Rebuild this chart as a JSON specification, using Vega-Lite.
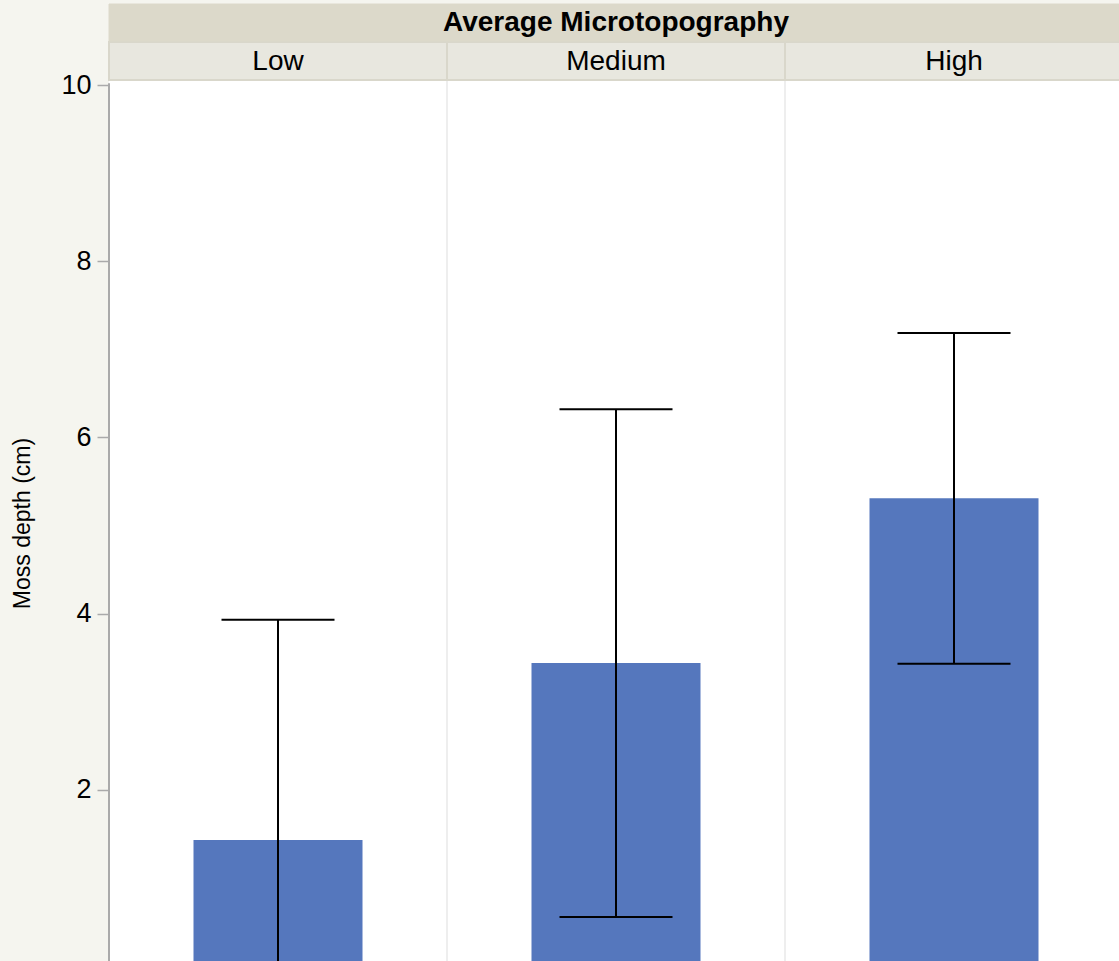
{
  "$schema": "https://vega.github.io/schema/vega-lite/v6.json",
  "width": 1014,
  "height": 962,
  "autosize": {"type": "none"},
  "padding": {"left": 109, "top": 4, "right": 0, "bottom": 0},
  "background": "#F5F5EF",
  "config": {"view": {"fill": "white", "stroke": null}, "font": "Liberation Sans"},
  "data": {"values": [
    {"topo": "Low", "mean": 1.43, "lower": -1.07, "upper": 3.93},
    {"topo": "Medium", "mean": 3.44, "lower": 0.556, "upper": 6.32},
    {"topo": "High", "mean": 5.31, "lower": 3.43, "upper": 7.185}
  ]},
  "encoding": {
    "x": {"field": "topo", "type": "nominal", "sort": ["Low", "Medium", "High"], "scale": {"paddingInner": 0, "paddingOuter": 0}, "axis": null}
  },
  "layer": [
    {
      "mark": {"type": "bar", "color": "#5577BD", "width": {"band": 0.5}},
      "encoding": {
        "y": {"field": "mean", "type": "quantitative", "scale": {"domain": [0, 10.92], "nice": false, "zero": false},
          "axis": {"values": [2, 4, 6, 8, 10], "format": "d", "title": "Moss depth (cm)", "domain": false, "grid": false, "tickSize": 12, "tickColor": "#AAAAAA", "tickWidth": 1.5, "labelFontSize": 27, "labelColor": "black", "labelPadding": 6, "titleFontSize": 23, "titleFontWeight": "normal", "titleColor": "black", "titlePadding": 26, "titleY": 519, "titleAlign": "center"}}
      }
    },
    {
      "mark": {"type": "rule", "color": "black", "strokeWidth": 2},
      "encoding": {
        "y": {"field": "lower", "type": "quantitative"},
        "y2": {"field": "upper"}
      }
    },
    {
      "mark": {"type": "tick", "color": "black", "thickness": 2, "size": 113, "opacity": 1},
      "encoding": {"y": {"field": "upper", "type": "quantitative"}}
    },
    {
      "mark": {"type": "tick", "color": "black", "thickness": 2, "size": 113, "opacity": 1},
      "encoding": {"y": {"field": "lower", "type": "quantitative"}}
    },
    {
      "transform": [{"filter": "datum.topo != 'Low'"}],
      "mark": {"type": "rule", "color": "#DDDDDD", "strokeWidth": 1},
      "encoding": {
        "x": {"field": "topo", "type": "nominal", "sort": ["Low", "Medium", "High"], "bandPosition": 0},
        "y": {"datum": -0.2},
        "y2": {"datum": 10.057}
      }
    },
    {
      "transform": [{"filter": "datum.topo == 'Low'"}],
      "mark": {"type": "rule", "color": "#AAAAAA", "strokeWidth": 2},
      "encoding": {
        "x": {"field": "topo", "type": "nominal", "sort": ["Low", "Medium", "High"], "bandPosition": 0},
        "y": {"datum": -0.2},
        "y2": {"datum": 10.02}
      }
    },
    {
      "mark": {"type": "rect", "fill": "#E8E7DF", "stroke": "#D9D7CB", "strokeWidth": 2},
      "encoding": {"y": {"datum": 10.057}, "y2": {"datum": 10.49}}
    },
    {
      "mark": {"type": "rect", "fill": "#DCD9CA", "stroke": "#DCD9CA", "strokeWidth": 1},
      "encoding": {"y": {"datum": 10.5}, "y2": {"datum": 10.92}}
    },
    {
      "mark": {"type": "text", "fontSize": 28, "color": "black", "baseline": "middle"},
      "encoding": {"text": {"field": "topo"}, "y": {"datum": 10.26}}
    },
    {
      "transform": [{"filter": "datum.topo == 'Medium'"}],
      "mark": {"type": "text", "fontSize": 28, "fontWeight": "bold", "color": "black", "baseline": "middle"},
      "encoding": {"text": {"value": "Average Microtopography"}, "y": {"datum": 10.71}}
    }
  ]
}
